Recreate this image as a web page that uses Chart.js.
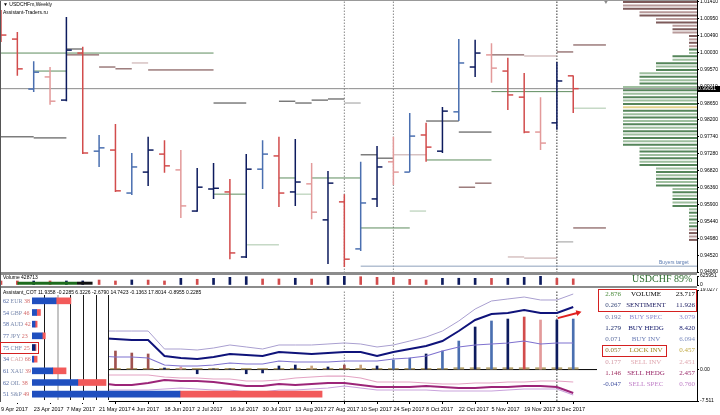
<!DOCTYPE html>
<html lang="en">
<head>
<meta charset="UTF-8">
<title>USDCHFm Weekly</title>
<script src="https://cdn.jsdelivr.net/npm/chart.js"></script>
<style>
    body { margin: 0; background: #fff; }
    #wrap {
        position: relative;
        width: 720px;
        height: 415px;
        overflow: hidden;
        background: #fff;
        font-family: 'Liberation Sans', Arial, sans-serif;
    }
    #wrap canvas { position: absolute; left: 0; }
    .t { position: absolute; white-space: nowrap; line-height: 1; }
    .serif { font-family: 'Liberation Serif', 'Times New Roman', serif; }
    .band { position: absolute; left: 0; width: 697px; background: #8c8c8c; }
    .box { position: absolute; border: 1.5px solid #d42020; box-sizing: border-box; }
</style>
</head>
<body>
<div id="wrap">
    <canvas id="price" width="720" height="273" style="top:0"></canvas>
    <canvas id="vol" width="720" height="15" style="top:273px"></canvas>
    <canvas id="ind" width="720" height="127" style="top:288px"></canvas>
    <canvas id="cot" width="330" height="115" style="top:288px"></canvas>
    <div class="band" style="top:272px;height:3px"></div>
    <div class="band" style="top:286px;height:2px"></div>
    <div style="position:absolute;left:0;top:0;width:1px;height:402px;background:#555"></div>
    <div style="position:absolute;left:0;top:0;width:697px;height:1px;background:#999"></div>
</div>

<script>
    // weekly bars, 9 Apr 2017 .. 10 Dec 2017
    const tickBars = [0, 2, 4, 6, 8, 10, 12, 14, 16, 18, 20, 22, 24, 26, 28, 30, 32, 34];
    const tickDates = ['9 Apr 2017', '23 Apr 2017', '7 May 2017', '21 May 2017', '4 Jun 2017', '18 Jun 2017',
        '2 Jul 2017', '16 Jul 2017', '30 Jul 2017', '13 Aug 2017', '27 Aug 2017', '10 Sep 2017',
        '24 Sep 2017', '8 Oct 2017', '22 Oct 2017', '5 Nov 2017', '19 Nov 2017', '3 Dec 2017'];

    const open = [1.0097, 1.0040, 0.9904, 0.9937, 0.9874, 1.0002, 0.9735, 0.9738, 0.9621, 0.9678, 0.9727, 0.9684,
        0.9572, 0.9632, 0.9624, 0.9447, 0.9686, 0.9722, 0.9624, 0.9646, 0.9548, 0.9597, 0.9469, 0.9605,
        0.9706, 0.9678, 0.9779, 0.9735, 0.9842, 0.9964, 0.9997, 0.9953, 0.9882, 0.9787, 0.9812, 0.9940];
    const high = [1.0119, 1.0059, 0.9980, 0.9964, 1.0100, 1.0019, 0.9779, 0.9809, 0.9730, 0.9774, 0.9765, 0.9738,
        0.9689, 0.9703, 0.9659, 0.9727, 0.9765, 0.9774, 0.9768, 0.9703, 0.9681, 0.9618, 0.9706, 0.9749,
        0.9774, 0.9839, 0.9812, 0.9855, 1.0040, 1.0038, 1.0029, 0.9989, 0.9948, 0.9882, 0.9978, 0.9941];
    const low = [1.0032, 0.9940, 0.9896, 0.9861, 0.9871, 0.9727, 0.9692, 0.9624, 0.9616, 0.9640, 0.9676, 0.9553,
        0.9570, 0.9605, 0.9441, 0.9444, 0.9632, 0.9583, 0.9586, 0.9550, 0.9428, 0.9420, 0.9463, 0.9583,
        0.9643, 0.9678, 0.9706, 0.9730, 0.9817, 0.9937, 0.9921, 0.9847, 0.9784, 0.9738, 0.9793, 0.9839];
    const close = [1.0051, 0.9959, 0.9950, 0.9871, 1.0010, 0.9730, 0.9744, 0.9627, 0.9692, 0.9738, 0.9695, 0.9586,
        0.9637, 0.9634, 0.9458, 0.9686, 0.9727, 0.9621, 0.9651, 0.9569, 0.9648, 0.9441, 0.9594, 0.9692,
        0.9678, 0.9776, 0.9746, 0.9844, 0.9975, 1.0002, 0.9961, 0.9888, 0.9787, 0.9757, 0.9926, 0.99051];
    // U strong up, u up, D strong down, d down
    const barKind = ['D', 'D', 'u', 'd', 'U', 'D', 'u', 'D', 'u', 'U', 'D', 'd', 'U', 'U', 'D', 'U', 'u', 'D',
        'U', 'd', 'U', 'D', 'u', 'U', 'd', 'u', 'D', 'U', 'u', 'U', 'd', 'D', 'D', 'd', 'U', 'D'];

    const priceTicks = [1.01410, 1.00950, 1.00490, 1.00030, 0.99570, 0.99110, 0.98650, 0.98200, 0.97740,
        0.97280, 0.96820, 0.96360, 0.95900, 0.95440, 0.94980, 0.94520, 0.94060];

    // horizontal levels: [from bar, to bar, price, kind]
    const levels = [
        [0, 13, 1.0002, 'g'], [2, 4, 0.9953, 'g'], [4, 5, 1.0013, 'k'], [4, 6, 0.9997, 'b'],
        [6, 7, 0.9964, 'b'], [7, 8, 0.9959, 'b'], [8, 9, 0.9975, 'B'], [9, 13, 0.9956, 'b'],
        [13, 15, 0.9866, 'k'], [17, 18, 0.9871, 'k'], [18, 19, 0.9866, 'k'], [19, 20, 0.9874, 'k'],
        [20, 21, 0.9877, 'k'], [21, 22, 0.9866, 's'], [0, 2, 0.9774, 'k'], [2, 4, 0.9771, 'k'],
        [13, 15, 0.9618, 'g'], [15, 17, 0.9480, 'G'], [17, 18, 0.9662, 'g'], [18, 19, 0.9618, 'G'],
        [19, 22, 0.9662, 'g'], [22, 23, 0.9725, 'k'], [23, 24, 0.9716, 'k'], [24, 26, 0.9725, 'B'],
        [26, 30, 0.9711, 'g'], [28, 29, 0.9637, 'b'], [29, 30, 0.9648, 'b'], [22, 25, 0.9526, 'g'],
        [25, 26, 0.9572, 'G'], [22, 42.6, 0.9422, 't'], [31, 32, 0.9447, 'B'], [32, 34, 0.9444, 'B'],
        [34, 35, 0.9488, 's'], [35, 37, 0.9526, 'b'], [30, 32, 0.9997, 'b'], [32, 34, 0.9994, 'B'],
        [34, 35, 1.0005, 'b'], [35, 37, 1.0024, 'b'], [35, 37, 0.9852, 'G'], [30, 35, 0.9897, 'g'],
        [26, 28, 0.9817, 'k'], [28, 30, 0.9787, 'k']
    ];
    const markBars = [21, 24, 34];

    // volume profile on the right, one row per price bin
    const profileTop = 1.0141, profileStep = 0.000925;
    const profile = [5, 5, 5, 4, 4, 3, 3, 2, 2, 2, 1, 1, 1, 1, 1, 1, 2, 2, 3, 3, 3, 4, 4, 4, 4,
        5, 5, 5, 5, 5, 5, 5, 5, 5, 5, 5, 5, 5, 5, 5, 5, 5, 5,
        4, 4, 4, 4, 4, 4, 3, 3, 3, 3, 3, 3, 2, 2, 2, 2, 2, 2, 1, 1, 1, 1, 1, 1, 1, 1, 1, 1];

    const volume = [278000, 280000, 276000, 281000, 279000, 282000, 346000, 279000, 350000, 344000, 281000,
        465000, 398000, 462000, 534000, 579000, 418000, 421000, 468000, 415000, 610000, 625951, 577000,
        532000, 538000, 396000, 348000, 463000, 470000, 466000, 461000, 467000, 536000, 612000, 459000, 428713];
    const volKind = ['D', 'D', 'U', 'D', 'U', 'U', 'D', 'D', 'U', 'D', 'D', 'U', 'D', 'U', 'U', 'U', 'D', 'D',
        'U', 'D', 'U', 'U', 'D', 'D', 'D', 'D', 'D', 'U', 'U', 'U', 'D', 'U', 'U', 'U', 'D', 'D'];
    const volTicks = [625951, 0];

    // Assistant_COT lines, from bar 6
    const cotStart = 6;
    const buySpec = [9.22, 9.22, 9.22, 9.22, 4.92, 4.92, 4.68, 5.16, 5.88, 5.40, 4.92, 5.88, 5.88, 5.88, 6.12,
        6.36, 6.12, 5.40, 5.88, 6.83, 7.79, 9.22, 11.62, 14.48, 16.40, 16.88, 17.35, 16.64, 16.64, 18.07];
    const buyHedg = [7.55, 7.31, 7.07, 7.07, 3.25, 2.77, 2.53, 3.01, 3.73, 3.49, 3.25, 4.20, 3.96, 3.73, 3.96,
        4.20, 4.20, 3.25, 4.20, 4.92, 5.64, 6.83, 9.22, 11.85, 13.29, 13.53, 14.25, 13.53, 13.53, 14.96];
    const buyInv = [3.25, 3.01, 3.01, 2.77, 1.09, 0.86, 0.86, 1.09, 1.57, 1.33, 1.33, 2.05, 1.81, 1.81, 1.81,
        2.05, 2.05, 2.05, 2.53, 2.77, 3.25, 4.44, 5.40, 5.88, 6.12, 6.36, 6.83, 6.12, 6.36, 6.36];
    const sellInv = [-1.30, -1.30, -1.30, -1.30, -1.77, -2.01, -2.01, -2.25, -2.25, -2.73, -2.73, -2.49, -2.01,
        -1.77, -1.54, -1.54, -2.01, -2.97, -2.97, -2.97, -3.21, -3.45, -3.45, -3.21, -3.21, -2.97, -2.97,
        -2.73, -2.73, -2.97];
    const sellHedg = [-3.21, -3.69, -3.69, -3.21, -2.49, -2.73, -2.73, -2.97, -3.45, -3.93, -3.93, -3.45, -3.69,
        -3.45, -3.21, -3.21, -3.69, -4.17, -4.17, -4.17, -3.93, -4.17, -4.40, -4.40, -4.17, -4.17, -3.93,
        -3.93, -4.17, -5.60];
    const sellSpec = [-4.88, -4.88, -4.88, -4.88, -4.64, -4.40, -4.64, -4.88, -4.88, -5.36, -5.36, -4.88, -4.88,
        -4.64, -4.40, -3.93, -4.40, -4.88, -4.88, -4.88, -4.88, -5.12, -5.12, -5.12, -5.12, -4.88, -4.64,
        -4.64, -4.64, -6.08];
    const sentiment = [3.5, 4.44, 3.96, 3.73, 0.38, 0.62, -1.0, 0.15, 0.15, -1.0, -0.8, 0.86, 1.09, 0.86, 0.62,
        1.09, 1.09, 0.86, 2.29, 2.77, 3.73, 4.44, 6.83, 10.18, 11.62, 12.09, 12.57, 11.85, 11.85, 12.09];
    const sentKind = ['D', 'B', 'B', 'B', 'U', 'd', 'U', 'U', 'U', 'U', 'U', 'U', 'U', 't', 'U', 'B', 't', 'U',
        'u', 'u', 'U', 'u', 'u', 'U', 'u', 'U', 'D', 'd', 'U', 'u'];
    const lockInv = [0.3, 0.3, 0.3, 0.3, 0.3, 0.3, 0.3, 0.3, 0.3, 0.3, 0.3, 0.3, 0.3, 0.3, 0.3, 0.3, 0.3, 0.3,
        0.3, 0.3, 0.3, 0.3, 0.46, 0.46, 0.46, 0.46, 0.46, 0.46, 0.46, 0.46];
    const arrowFrom = [34.05, 12.3], arrowTo = [35.3, 13.6];
    const indTicks = [19.0277, 0, -7.511];
    const indTickText = ['19.0277', '0.00', '-7.511'];
    const indTitle = 'Assistant_COT 11.9358 -0.2285 6.3226 -2.6790 14.7423 -0.1363 17.8014 -0.8955 0.2285';

    // COT positions by market
    const cotNames = ['EUR', 'GBP', 'AUD', 'JPY', 'CHF', 'CAD', 'XAU', 'OIL', 'S&P'];
    const cotLongPct = [62, 54, 58, 77, 75, 34, 61, 62, 51];
    const cotShortPct = [38, 46, 42, 23, 25, 66, 39, 38, 49];
    const cotLong = [94, 18, 12, 40, 12, 7, 81, 179, 578];
    const cotShort = [58, 15, 8, 12, 4, 13, 52, 110, 555];
    const cotTicks = [50, 100, 150, 200, 250, 300];

    const tableNames = ['VOLUME', 'SENTIMENT', 'BUY SPEC', 'BUY HEDG', 'BUY INV', 'LOCK INV', 'SELL INV', 'SELL HEDG', 'SELL SPEC'];
    const tableNow = [2.876, 0.267, 0.192, 1.279, 0.071, 0.057, 0.177, 1.146, -0.047];
    const tableTotal = [23.717, 11.926, 3.079, 8.420, 6.094, 0.457, 2.451, 2.457, 0.760];

    // ---------- styles ----------
    const tone = { U: '#0d1b5e', u: '#4a6fb0', D: '#d24c4c', d: '#e39a9a', B: '#a0524f', t: '#c9a27e' };
    const lvlTone = { g: '#5e8c5e', G: '#a9c6a9', b: '#6b3a3a', B: '#c2a3a3', k: '#3c3c3c', s: '#9a9a9a', t: '#8ea0bb' };
    const rowNowCol = ['#4b8b3b', '#3a4a7a', '#6a78a8', '#1a2a6a', '#6070a0', '#8a7a30', '#d39aa6', '#a03060', '#4050a0'];
    const rowNameCol = ['#000', '#1a1a60', '#8a8ad0', '#1a2070', '#7080b8', '#a08a20', '#e0a8b0', '#9a2a6a', '#c080c8'];
    const rowTotCol = ['#000', '#1a1a60', '#8a8ad0', '#1a2070', '#8090c0', '#c0a840', '#e0a8b0', '#9a2a6a', '#c080c8'];

    const xMin = -0.061, xMax = 42.57;
    const pMin = 0.94034, pMax = 1.01464;

    Chart.defaults.font.family = "'Liberation Sans', Arial, sans-serif";
    Chart.defaults.color = '#000';
    const base = {
        responsive: false, animation: false, devicePixelRatio: 1, events: [],
        plugins: { legend: { display: false }, tooltip: { enabled: false } }
    };

    function rightAxis(ticks, fmt, min, max) {
        return {
            type: 'linear', position: 'right', min: min, max: max, bounds: 'data',
            afterFit: s => { s.width = 23; s.paddingTop = 0; s.paddingBottom = 0; },
            afterBuildTicks: s => { s.ticks = ticks.map(v => ({ value: v })); },
            ticks: { callback: fmt, font: { size: 5 }, padding: 1, autoSkip: false, color: '#000' },
            grid: { drawOnChartArea: false, tickLength: 2, color: '#000' },
            border: { color: '#000' }
        };
    }

    // pieces [x0, y0, x1, y1, colour] -> one line dataset broken by gaps
    function build(pieces) {
        const pts = [], cols = [];
        pieces.forEach(p => {
            pts.push({ x: p[0], y: p[1] }, { x: p[2], y: p[3] }, { x: p[2], y: null });
            cols.push(p[4], p[4], p[4]);
        });
        return { pts, cols };
    }
    function piecesSet(b, width, extra) {
        return Object.assign({
            data: b.pts, borderWidth: width, borderColor: '#000', pointRadius: 0, spanGaps: false,
            borderCapStyle: 'butt', segment: { borderColor: c => b.cols[c.p0DataIndex] }
        }, extra || {});
    }
    function dotted(yMin, yMax) {
        return markBars.map((b, k) => ({
            type: 'line', data: [{ x: b, y: yMin }, { x: b, y: yMax }],
            borderColor: k === markBars.length - 1 ? '#333' : '#888', borderWidth: 1,
            borderDash: [1.5, 1.5], pointRadius: 0
        }));
    }

    const ohlcPieces = [];
    open.forEach((o, i) => {
        const c = tone[barKind[i]];
        ohlcPieces.push([i, high[i], i, low[i], c], [i - 0.33, o, i, o, c], [i, close[i], i + 0.33, close[i], c]);
    });
    const ohlc = build(ohlcPieces);
    const lv = build(levels.map(l => [l[0], l[2], l[1], l[2], lvlTone[l[3]]]));
    const prof = build(profile.map((w, k) => {
        const p = profileTop - k * profileStep;
        let c = k % 2 ? '#9fbf9f' : '#55855a';
        if (k <= 13 || k >= 67) c = k % 2 ? '#b89a9a' : '#7d5a5a';
        if (k === 31) c = '#e3d38c';
        return [0, p, w, p, c];
    }));
    const lastClose = close[close.length - 1];

    const priceChart = new Chart(document.getElementById('price'), {
        type: 'line',
        data: {
            datasets: [
                piecesSet(ohlc, 1.5),
                { data: [{ x: 37, y: 1.0142 }], showLine: false, pointStyle: 'triangle', rotation: 180,
                  pointRadius: 2.5, backgroundColor: '#8a8a8a', borderWidth: 0 },
                piecesSet(lv, 1),
                { data: [{ x: xMin, y: lastClose }, { x: xMax, y: lastClose }], borderColor: '#8a8a8a',
                  borderWidth: 1, pointRadius: 0 },
                ...dotted(pMin, pMax),
                piecesSet(prof, 2, { xAxisID: 'xp' })
            ]
        },
        options: Object.assign({}, base, {
            layout: { padding: 0, autoPadding: false },
            scales: {
                x: { type: 'linear', display: false, min: xMin, max: xMax },
                xp: { type: 'linear', display: false, reverse: true, min: 0.515, max: 42.76 },
                y: rightAxis(priceTicks, v => v.toFixed(5), pMin, pMax)
            }
        })
    });

    new Chart(document.getElementById('vol'), {
        type: 'bar',
        data: {
            datasets: [
                { type: 'line', data: [{ x: 1, y: 125000 }, { x: 4.65, y: 125000 }], borderColor: '#1d6b1d',
                  borderWidth: 3, pointRadius: 0, borderCapStyle: 'butt' },
                { type: 'line', data: [{ x: 4.65, y: 125000 }, { x: 5.6, y: 125000 }], borderColor: '#111',
                  borderWidth: 3, pointRadius: 0, borderCapStyle: 'butt' },
                { type: 'bar', data: volume.map((v, i) => ({ x: i, y: v })), grouped: false, barThickness: 2,
                  backgroundColor: volKind.map(k => tone[k]) },
                ...dotted(0, 625951)
            ]
        },
        options: Object.assign({}, base, {
            layout: { padding: { top: 3, bottom: 3, left: 0, right: 0 }, autoPadding: false },
            scales: {
                x: { type: 'linear', display: false, min: xMin, max: xMax, offset: false },
                y: rightAxis(volTicks, v => String(v), 0, 625951)
            }
        })
    });

    const line = (vals, color, width) => ({
        type: 'line', data: vals.map((v, k) => ({ x: cotStart + k, y: v })), borderColor: color,
        borderWidth: width, pointRadius: 0, tension: 0
    });
    const indChart = new Chart(document.getElementById('ind'), {
        type: 'line',
        data: {
            datasets: [
                { type: 'line', data: [{ x: arrowFrom[0], y: arrowFrom[1] }, { x: arrowTo[0], y: arrowTo[1] }],
                  borderColor: '#e02020', borderWidth: 2, pointRadius: [0, 3.5], pointStyle: 'triangle',
                  pointRotation: [0, 76], pointBackgroundColor: '#e02020', pointBorderWidth: 0 },
                line(buyHedg, '#0f137a', 2),
                line(buySpec, '#a99fd0', 1),
                line(buyInv, '#7f72cf', 1.2),
                line(sellInv, '#e3a3c3', 1.2),
                line(sellHedg, '#9c2478', 2),
                line(sellSpec, '#c9a3dc', 1.2),
                { type: 'bar', data: sentiment.map((v, k) => ({ x: cotStart + k, y: v })), grouped: false,
                  barThickness: 2, backgroundColor: sentKind.map(k => tone[k]) },
                { type: 'bar', data: lockInv.map((v, k) => ({ x: cotStart + k, y: v })), grouped: false,
                  barThickness: 10, backgroundColor: '#b8a672' },
                { type: 'line', data: [{ x: xMin, y: 0 }, { x: xMax, y: 0 }], borderColor: '#000',
                  borderWidth: 1, pointRadius: 0 },
                ...dotted(-7.511, 19.0277)
            ]
        },
        options: Object.assign({}, base, {
            layout: { padding: { top: 2, bottom: 0, left: 0, right: 0 }, autoPadding: false },
            scales: {
                x: {
                    type: 'linear', min: xMin, max: xMax, offset: false, bounds: 'data',
                    afterBuildTicks: s => { s.ticks = tickBars.map(v => ({ value: v })); },
                    afterFit: s => { s.height = 14; s.paddingLeft = 0; s.paddingRight = 0; },
                    ticks: { callback: (v, k) => tickDates[k], align: 'start', maxRotation: 0, minRotation: 0,
                             autoSkip: false, font: { size: 5.5 }, padding: 2, color: '#000' },
                    grid: { drawOnChartArea: false, tickLength: 3, color: '#000' },
                    border: { color: '#000' }
                },
                y: rightAxis(indTicks, (v, k) => indTickText[k], -7.511, 19.0277)
            }
        })
    });

    const cotBackdrop = {
        id: 'cotBackdrop',
        beforeDraw(chart) {
            const x = chart.scales.x.getPixelForValue(300);
            chart.ctx.save();
            chart.ctx.fillStyle = '#fff';
            chart.ctx.fillRect(0, 0, x, chart.height);
            chart.ctx.restore();
        }
    };
    const cotChart = new Chart(document.getElementById('cot'), {
        type: 'bar',
        data: {
            labels: cotNames,
            datasets: [
                { data: cotLong, barThickness: 6, backgroundColor: cotNames.map(n => n === 'CHF' ? '#0b2275' : '#1f4fbf') },
                { data: cotShort, barThickness: 6, backgroundColor: '#f25a5a' }
            ]
        },
        options: Object.assign({}, base, {
            indexAxis: 'y',
            layout: { padding: { left: 32, top: 7, right: 0, bottom: 0 }, autoPadding: false },
            scales: {
                x: {
                    type: 'linear', stacked: true, min: 0, max: 1164, bounds: 'data',
                    afterBuildTicks: s => { s.ticks = cotTicks.map(v => ({ value: v })); },
                    afterFit: s => { s.height = 3; s.paddingLeft = 0; s.paddingRight = 0; },
                    ticks: { font: { size: 5 }, padding: -4, autoSkip: false, maxRotation: 0, color: '#000' },
                    grid: {
                        drawTicks: false,
                        color: c => c.tick && c.tick.value === 100 ? '#c4c4c4' : '#1a1a1a',
                        lineWidth: c => c.tick && c.tick.value === 100 ? 2 : 1
                    },
                    border: { display: false }
                },
                y: { stacked: true, display: false }
            }
        }),
        plugins: [cotBackdrop]
    });

    // ---------- texts ----------
    const wrap = document.getElementById('wrap');
    function label(text, css, cls) {
        const d = document.createElement('div');
        d.className = 't' + (cls ? ' ' + cls : '');
        if (Array.isArray(text)) {
            text.forEach(([s, col]) => {
                const sp = document.createElement('span');
                sp.textContent = s;
                sp.style.color = col;
                d.appendChild(sp);
            });
        } else {
            d.textContent = text;
        }
        Object.assign(d.style, css);
        wrap.appendChild(d);
        return d;
    }

    label('▼ USDCHFm,Weekly', { left: '3px', top: '2px', fontSize: '5px', color: '#000' });
    label('Assistant-Traders.ru', { left: '3px', top: '9.5px', fontSize: '5px', color: '#000' });
    label('Volume 428713', { left: '3px', top: '275px', fontSize: '5px', color: '#000' });
    label(indTitle, { left: '3px', top: '289.5px', fontSize: '5px', color: '#000' });
    label('USDCHF 89%', { left: '632px', top: '273.5px', fontSize: '10px', color: '#2f6f2f' }, 'serif');

    const py = priceChart.scales.y;
    label(lastClose.toFixed(5), { left: '697px', top: (py.getPixelForValue(lastClose) - 3) + 'px', fontSize: '5px',
        color: '#fff', background: '#000', padding: '0.5px 1px', width: '21px' });
    label('Buyers target', { left: '659px', top: (py.getPixelForValue(0.9422) - 6.5) + 'px', fontSize: '5px',
        color: '#5a7ab0' });

    const cy = cotChart.scales.y;
    cotNames.forEach((n, i) => {
        const y = cy.getPixelForValue(i) + 288;
        label([[cotLongPct[i] + ' ', '#4a62a0'], [n + ' ', n === 'CAD' ? '#d6a6a6' : '#7d8db0'], [String(cotShortPct[i]), '#d46a6a']],
            { left: '3px', top: (y - 3) + 'px', fontSize: '6px' }, 'serif');
    });
    const chfY = cy.getPixelForValue(4) + 288;
    const chfBox = document.createElement('div');
    chfBox.className = 'box';
    Object.assign(chfBox.style, { left: '0px', top: (chfY - 6) + 'px', width: '39px', height: '12px' });
    wrap.appendChild(chfBox);

    // table on the right of the COT pane
    const tbl = document.createElement('div');
    Object.assign(tbl.style, { position: 'absolute', left: '597px', top: '289px', width: '100px', height: '112px', background: '#fff' });
    wrap.appendChild(tbl);
    const rowY = [294, 305.5, 317, 328, 339.5, 350.5, 362, 373, 384.5];
    tableNames.forEach((n, i) => {
        const top = (rowY[i] - 3.5) + 'px';
        label(tableNow[i].toFixed(3), { right: '99px', top: top, fontSize: '7px', color: rowNowCol[i] }, 'serif');
        label(n, { left: '606px', width: '80px', textAlign: 'center', top: top, fontSize: '7px', color: rowNameCol[i] }, 'serif');
        label(tableTotal[i].toFixed(3), { right: '25px', top: top, fontSize: '7px', color: rowTotCol[i] }, 'serif');
    });
    [[598, 288.5, 99, 23], [602, 344.5, 65, 12]].forEach(b => {
        const d = document.createElement('div');
        d.className = 'box';
        Object.assign(d.style, { left: b[0] + 'px', top: b[1] + 'px', width: b[2] + 'px', height: b[3] + 'px' });
        wrap.appendChild(d);
    });
</script>
</body>
</html>
